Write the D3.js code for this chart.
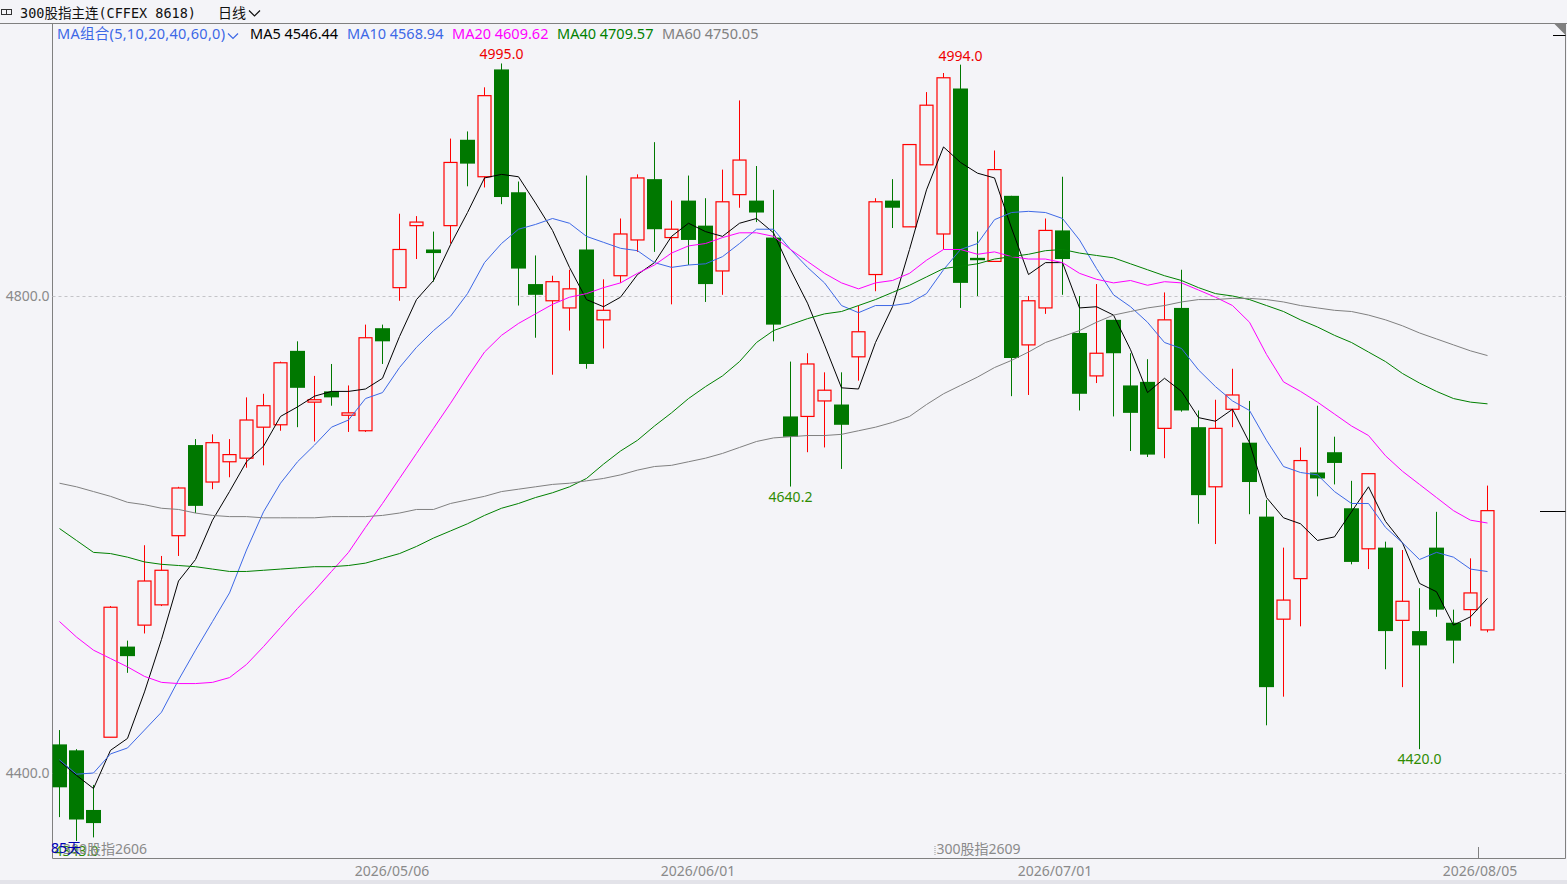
<!DOCTYPE html>
<html>
<head>
<meta charset="utf-8">
<script src="https://cdn.jsdelivr.net/npm/d3@7"></script>
<style>
html, body { margin: 0; padding: 0; background: #f4f4f8; overflow: hidden; }
svg { display: block; }
text { font-family: "Noto Sans", "Noto Sans CJK SC", sans-serif; }
</style>
</head>
<body>
<div id="chart"></div>
<script>
// trading days shown (85天)
var dates = [
  "2026/04/02","2026/04/03","2026/04/07","2026/04/08","2026/04/09","2026/04/10","2026/04/13","2026/04/14","2026/04/15","2026/04/16",
  "2026/04/17","2026/04/20","2026/04/21","2026/04/22","2026/04/23","2026/04/24","2026/04/27","2026/04/28","2026/04/29","2026/04/30",
  "2026/05/06","2026/05/07","2026/05/08","2026/05/11","2026/05/12","2026/05/13","2026/05/14","2026/05/15","2026/05/18","2026/05/19",
  "2026/05/20","2026/05/21","2026/05/22","2026/05/25","2026/05/26","2026/05/27","2026/05/28","2026/05/29","2026/06/01","2026/06/02",
  "2026/06/03","2026/06/04","2026/06/05","2026/06/08","2026/06/09","2026/06/10","2026/06/11","2026/06/12","2026/06/15","2026/06/16",
  "2026/06/17","2026/06/18","2026/06/22","2026/06/23","2026/06/24","2026/06/25","2026/06/26","2026/06/29","2026/06/30","2026/07/01",
  "2026/07/02","2026/07/03","2026/07/06","2026/07/07","2026/07/08","2026/07/09","2026/07/10","2026/07/13","2026/07/14","2026/07/15",
  "2026/07/16","2026/07/17","2026/07/20","2026/07/21","2026/07/22","2026/07/23","2026/07/24","2026/07/27","2026/07/28","2026/07/29",
  "2026/07/30","2026/07/31","2026/08/03","2026/08/04","2026/08/05"
];

var opens = [
  4424,4419,4369,4430,4506,4524,4541,4599,4675,4644,
  4661,4664,4690,4692,4754,4711,4720,4700,4687,4773,
  4807,4859,4839,4859,4931,4900,4990,4887,4810,4796,
  4790,4839,4780,4817,4847,4898,4849,4880,4859,4821,
  4885,4880,4849,4699,4699,4712,4709,4749,4818,4880,
  4858,4910,4852,4974,4832,4829,4884,4759,4790,4855,
  4769,4733,4780,4725,4728,4689,4790,4690,4640,4705,
  4677,4615,4529,4563,4652,4669,4622,4588,4589,4528,
  4519,4589,4526,4537,4520
];
var highs = [
  4436,4420,4390,4540,4511,4591,4582,4640,4680,4684,
  4680,4715,4718,4745,4762,4733,4743,4725,4776,4776,
  4869,4867,4854,4932,4938,4975,4995,4896,4834,4817,
  4822,4901,4814,4865,4902,4929,4880,4901,4882,4906,
  4964,4909,4889,4745,4752,4736,4736,4792,4882,4898,
  4927,4971,4987,4994,4854,4922,4884,4800,4865,4900,
  4800,4810,4780,4752,4747,4803,4822,4704,4713,4739,
  4712,4629,4589,4673,4708,4682,4645,4651,4594,4587,
  4555,4619,4537,4580,4641
];
var lows = [
  4363,4343,4346,4430,4484,4517,4540,4582,4618,4638,
  4648,4656,4658,4687,4690,4678,4708,4686,4686,4743,
  4796,4831,4812,4844,4892,4891,4877,4792,4765,4734,
  4771,4739,4756,4811,4837,4837,4793,4826,4795,4801,
  4874,4862,4762,4640.2,4669,4673,4655,4729,4804,4857,
  4858,4910,4839,4790,4800,4829,4716,4717,4785,4801,
  4704,4727,4699,4670,4665,4664,4703,4609,4592,4690,
  4617,4440,4464,4523,4632,4642,4575,4571,4487,4472,
  4420,4531,4492,4523,4518
];
var closes = [
  4388,4361,4358,4539,4498,4561,4570,4639,4624,4677,
  4667,4696,4708,4744,4723,4713,4715,4702,4765,4762,
  4839,4862,4836,4912,4911,4968,4883,4823,4801,4812,
  4806,4743,4788,4852,4899,4856,4856,4847,4810,4879,
  4914,4870,4776,4682,4743,4721,4692,4770,4879,4874,
  4927,4960,4983,4811,4830,4906,4748,4796,4855,4831,
  4718,4752,4752,4702,4667,4780,4704,4633,4689,4717,
  4644,4472,4545,4662,4647,4660,4577,4651,4519,4544,
  4507,4537,4511,4551,4620
];

// moving averages
var ma5 = [
  4410,4398,4387,4419,4429,4468,4512,4561,4579,4612,
  4636,4661,4674,4699,4707,4716,4720,4720,4722,4731,
  4766,4797,4813,4843,4870,4899,4902,4900,4878,4855,
  4824,4797,4791,4799,4818,4828,4850,4861,4854,4850,
  4861,4865,4853,4822,4794,4759,4723,4722,4761,4791,
  4839,4889,4925,4912,4903,4899,4857,4818,4828,4828,
  4790,4791,4784,4755,4719,4731,4720,4698,4695,4705,
  4677,4631,4614,4609,4595,4598,4619,4640,4611,4593,
  4559,4552,4524,4531,4546.44
];
var ma10 = [
  4411,4399,4400,4416,4421,4436,4451,4478,4503,4527,
  4551,4587,4619,4643,4661,4675,4690,4696,4714,4719,
  4740,4757,4771,4783,4802,4828,4844,4856,4860,4865,
  4861,4850,4845,4840,4838,4828,4824,4826,4827,4833,
  4844,4856,4856,4839,4824,4811,4792,4786,4792,4792,
  4794,4802,4822,4839,4844,4864,4870,4871,4870,4865,
  4847,4823,4801,4791,4778,4761,4756,4738,4724,4712,
  4704,4679,4657,4652,4650,4636,4626,4626,4606,4593,
  4579,4585,4581,4571,4568.94
];
var ma20 = [
  4527,4514,4503,4496,4489,4481,4476,4475,4475,4476,
  4480,4491,4506,4522,4538,4553,4569,4585,4606,4626,
  4647,4668,4689,4710,4732,4753,4767,4777,4785,4793,
  4799,4802,4807,4811,4819,4826,4836,4842,4844,4849,
  4853,4853,4850,4839,4829,4819,4811,4806,4811,4813,
  4819,4830,4839,4839,4835,4837,4833,4831,4831,4828,
  4819,4814,4811,4813,4809,4812,4811,4805,4799,4792,
  4778,4751,4728,4720,4711,4701,4691,4683,4666,4653,
  4642,4631,4620,4612,4609.62
];
var ma40 = [
  4605,4595,4585,4584,4581,4577,4575,4574,4573,4571,
  4569,4569,4570,4571,4572,4573,4573,4574,4576,4580,
  4584,4590,4597,4603,4609,4616,4622,4626,4631,4635,
  4640,4647,4659,4670,4679,4691,4702,4714,4724,4733,
  4745,4761,4771,4776,4781,4785,4787,4792,4797,4803,
  4809,4816,4823,4825,4827,4831,4833,4835,4838,4839,
  4836,4834,4832,4827,4822,4817,4813,4807,4802,4800,
  4797,4792,4787,4780,4774,4767,4761,4753,4745,4735,
  4727,4720,4714,4711,4709.57
];
var ma60 = [
  4643,4640,4636,4632,4627,4625,4622,4621,4618,4616,
  4615,4615,4614,4614,4614,4614,4615,4615,4615,4616,
  4618,4621,4621,4626,4629,4632,4636,4638,4640,4642,
  4643,4645,4647,4650,4654,4657,4658,4661,4664,4668,
  4673,4678,4681,4682,4683,4683,4684,4687,4690,4694,
  4699,4709,4718,4725,4732,4740,4746,4753,4761,4766,
  4771,4778,4784,4787,4790,4792,4795,4797,4797,4798,
  4798,4797,4795,4792,4790,4788,4787,4784,4780,4775,
  4769,4764,4759,4754,4750.05
];

var maNames = ["MA5", "MA10", "MA20", "MA40", "MA60"];
var maColors = ["#000000", "#3d68e6", "#ff00ff", "#008000", "#808080"];
var yTicks = [4400, 4800];
var dateTicks = ["2026/05/06", "2026/06/01", "2026/07/01", "2026/08/05"];
var contractDates = ["2026/04/02", "2026/06/22"];
var contractNames = ["300股指2606", "300股指2609"];
var highMarks = ["2026/05/14", "2026/06/23"];
var lowMarks = ["2026/04/03", "2026/06/08", "2026/07/30"];

function drawChart() {

  var svgWidth = 1567;
  var svgHeight = 884;

  var plot = { left: 52.5, right: 1565.5, top: 23.5, bottom: 858.5 };

  var svg = d3.select("#chart")
    .append("svg")
    .attr("width", svgWidth)
    .attr("height", svgHeight);

  svg.append("rect")
    .attr("width", svgWidth)
    .attr("height", svgHeight)
    .attr("fill", "#f4f4f8");

  svg.append("rect")
    .attr("y", 880)
    .attr("width", svgWidth)
    .attr("height", 4)
    .attr("fill", "#e3e3e9");

  // scales
  var x = d3.scaleBand()
    .domain(dates)
    .range([50.5, 50.5 + 17 * dates.length])
    .padding(0);

  var y = d3.scaleLinear()
    .domain([4400, 4800])
    .range([773, 296]);

  var cx = function(d) { return Math.round(x(d) + x.bandwidth() / 2); };

  svg.append("clipPath").attr("id", "plotclip")
    .append("rect")
    .attr("x", plot.left)
    .attr("y", plot.top)
    .attr("width", plot.right - plot.left)
    .attr("height", plot.bottom - plot.top);

  // header
  var head = svg.append("g");
  head.append("rect").attr("x", 1.5).attr("y", 9.5).attr("width", 5).attr("height", 5)
    .attr("fill", "none").attr("stroke", "#333");
  head.append("rect").attr("x", 6.5).attr("y", 9.5).attr("width", 5).attr("height", 5)
    .attr("fill", "none").attr("stroke", "#333");
  head.append("text")
    .attr("x", 20)
    .attr("y", 18)
    .attr("font-size", "13.5px")
    .style("font-family", "'DejaVu Sans Mono', 'Noto Sans CJK SC', monospace")
    .attr("fill", "#111")
    .text("300股指主连(CFFEX 8618)");
  head.append("text")
    .attr("x", 218)
    .attr("y", 18)
    .attr("font-size", "14px")
    .style("font-family", "'Noto Sans CJK SC', sans-serif")
    .attr("fill", "#111")
    .text("日线");
  head.append("path")
    .attr("d", "M249,10.5 L254.5,16 L260,10.5")
    .attr("fill", "none").attr("stroke", "#111").attr("stroke-width", 1.2);

  // frame
  svg.append("line")
    .attr("x1", 0).attr("x2", svgWidth)
    .attr("y1", plot.top).attr("y2", plot.top)
    .attr("stroke", "#808080");
  svg.append("path")
    .attr("d", `M${plot.left},${plot.top} V${plot.bottom} H${plot.right} V${plot.top}`)
    .attr("fill", "none")
    .attr("stroke", "#808080");

  // grid
  svg.append("g").selectAll("line")
    .data(yTicks)
    .enter()
    .append("line")
    .attr("x1", plot.left)
    .attr("x2", plot.right)
    .attr("y1", d => Math.round(y(d)) + 0.5)
    .attr("y2", d => Math.round(y(d)) + 0.5)
    .attr("stroke", "#c4c4c8")
    .attr("stroke-dasharray", "3,3");

  // y axis labels
  var yAxis = d3.axisLeft(y)
    .tickValues(yTicks)
    .tickFormat(d3.format(".1f"))
    .tickSize(0)
    .tickPadding(3);

  var yg = svg.append("g")
    .attr("transform", `translate(${plot.left}, 0)`)
    .call(yAxis);
  yg.select(".domain").remove();
  yg.selectAll("text")
    .attr("font-size", "14px")
    .attr("fill", "#8a8a8a")
    .style("font-family", "'Noto Sans', sans-serif");

  var chartGroup = svg.append("g").attr("clip-path", "url(#plotclip)");

  // candles
  var candles = chartGroup.selectAll("g.candle")
    .data(dates)
    .enter()
    .append("g")
    .attr("class", "candle");

  candles.append("line")
    .attr("x1", d => cx(d) + 0.5)
    .attr("x2", d => cx(d) + 0.5)
    .attr("y1", (d, i) => y(highs[i]))
    .attr("y2", (d, i) => y(lows[i]))
    .attr("stroke", (d, i) => closes[i] >= opens[i] ? "#ff0000" : "#007800");

  candles.append("rect")
    .attr("x", (d, i) => closes[i] >= opens[i] ? cx(d) - 6 : cx(d) - 7)
    .attr("width", (d, i) => closes[i] >= opens[i] ? 13 : 15)
    .attr("y", (d, i) => y(Math.max(opens[i], closes[i])))
    .attr("height", (d, i) => Math.max(1, Math.abs(y(opens[i]) - y(closes[i]))))
    .attr("fill", (d, i) => closes[i] >= opens[i] ? "#f4f4f8" : "#007800")
    .attr("stroke", (d, i) => closes[i] >= opens[i] ? "#ff0000" : "none")
    .attr("stroke-width", 1.2);

  // moving average lines
  var maSeries = [ma5, ma10, ma20, ma40, ma60];
  var line = d3.line()
    .x((d, i) => cx(dates[i]) + 0.5)
    .y(d => y(d));

  chartGroup.selectAll("path.ma")
    .data(maSeries)
    .enter()
    .append("path")
    .attr("class", "ma")
    .attr("d", d => line(d))
    .attr("fill", "none")
    .attr("stroke", (d, i) => maColors[i])
    .attr("stroke-width", 1);

  // last close marker on the right
  var lastClose = closes[closes.length - 1];
  svg.append("line")
    .attr("x1", 1540).attr("x2", plot.right)
    .attr("y1", Math.round(y(lastClose)) + 0.5)
    .attr("y2", Math.round(y(lastClose)) + 0.5)
    .attr("stroke", "#000");

  // corner mark
  svg.append("path")
    .attr("d", `M1554,${plot.top} L${plot.right},${plot.top} L${plot.right},35 Z`)
    .attr("fill", "#808080");
  svg.append("line")
    .attr("x1", 1553).attr("x2", plot.right)
    .attr("y1", 35.5).attr("y2", 35.5)
    .attr("stroke", "#000");

  // high / low marks
  highMarks.forEach(function(dt) {
    var i = dates.indexOf(dt);
    svg.append("text")
      .attr("x", cx(dt) + 0.5)
      .attr("y", y(highs[i]) - 4)
      .attr("text-anchor", "middle")
      .attr("font-size", "14px")
      .attr("fill", "#ee0000")
      .text(d3.format(".1f")(highs[i]));
  });
  lowMarks.forEach(function(dt) {
    var i = dates.indexOf(dt);
    svg.append("text")
      .attr("x", cx(dt) + 0.5)
      .attr("y", Math.min(y(lows[i]) + 15, 856))
      .attr("text-anchor", "middle")
      .attr("font-size", "14px")
      .attr("fill", "#2e8b00")
      .text(d3.format(".1f")(lows[i]));
  });

  // contract labels
  contractDates.forEach(function(dt, k) {
    var xx = k === 0 ? 62 : x(dt) + 1;
    if (k > 0) {
      svg.append("line")
        .attr("x1", xx - 0.5).attr("x2", xx - 0.5)
        .attr("y1", 846).attr("y2", 856)
        .attr("stroke", "#999")
        .attr("stroke-dasharray", "1,1");
    }
    svg.append("text")
      .attr("x", xx + 1)
      .attr("y", 854)
      .attr("font-size", "14px")
      .attr("fill", "#8a8a8a")
      .text(contractNames[k]);
  });

  svg.append("text")
    .attr("x", 51)
    .attr("y", 853)
    .attr("font-size", "14px")
    .attr("fill", "#0000b4")
    .text(dates.length + "天");

  // date labels
  var dateGroup = svg.append("g");
  dateTicks.forEach(function(dt) {
    dateGroup.append("text")
      .attr("x", cx(dt) - 7)
      .attr("y", 876)
      .attr("text-anchor", "middle")
      .attr("font-size", "14px")
      .attr("fill", "#8a8a8a")
      .text(dt);
  });
  var lastDate = dates[dates.length - 1];
  svg.append("line")
    .attr("x1", cx(lastDate) - 8.5).attr("x2", cx(lastDate) - 8.5)
    .attr("y1", 847).attr("y2", plot.bottom)
    .attr("stroke", "#808080");

  // legend
  var legend = svg.append("g");
  var combo = legend.append("text")
    .attr("x", 57)
    .attr("y", 39)
    .attr("font-size", "14.5px")
    .attr("fill", "#3d68e6")
    .text("MA组合(5,10,20,40,60,0)");
  combo.attr("textLength", 168).attr("lengthAdjust", "spacing");
  legend.append("path")
    .attr("d", "M228,33.5 L233,38.5 L238,33.5")
    .attr("fill", "none").attr("stroke", "#3d68e6").attr("stroke-width", 1.2);
  var legendX = [250, 347, 452, 557, 662];
  maNames.forEach(function(name, i) {
    var vals = maSeries[i];
    legend.append("text")
      .attr("x", legendX[i])
      .attr("y", 39)
      .attr("font-size", "14.5px")
      .attr("fill", maColors[i])
      .text(name + " " + d3.format(".2f")(vals[vals.length - 1]));
  });
}

drawChart();
</script>
</body>
</html>
